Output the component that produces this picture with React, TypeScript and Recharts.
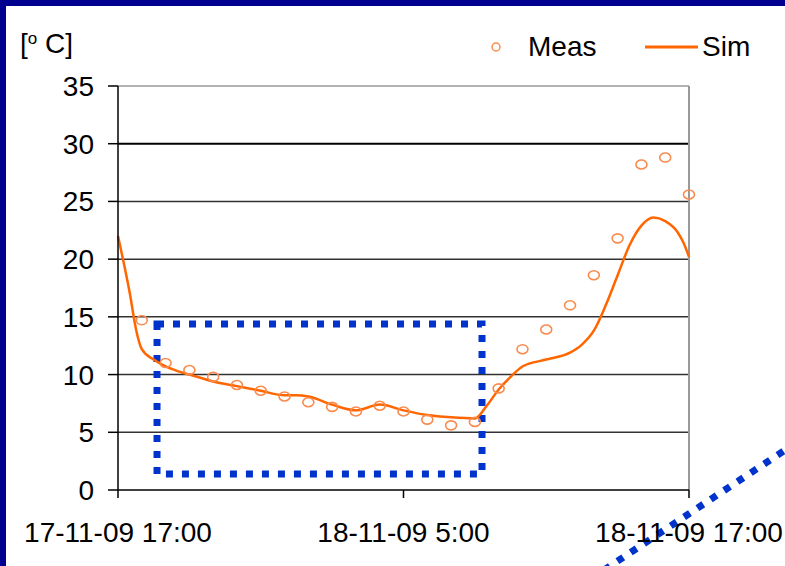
import React from "react";
import {
  CartesianGrid,
  ComposedChart,
  Line,
  ReferenceArea,
  ReferenceLine,
  XAxis,
  YAxis,
} from "recharts";

// Simulated temperature, hours since 17-11-09 17:00
const simHours = [
  0, 0.25, 0.5, 0.75, 1, 1.5, 2, 2.5, 3, 3.5, 4, 5, 6, 7, 7.5, 8, 9, 10, 11, 12, 13, 14, 15,
  15.5, 16, 16.5, 17, 18, 19, 19.5, 20, 20.5, 21, 21.5, 22, 22.5, 23, 23.5, 23.75, 24,
];
const simTemp = [
  22.0, 19.6, 17.0, 14.0, 12.2, 11.3, 10.7, 10.3, 10.0, 9.7, 9.4, 9.0, 8.6, 8.2, 8.2, 8.1, 7.4,
  6.9, 7.4, 6.9, 6.5, 6.3, 6.2, 7.3, 8.7, 9.8, 10.7, 11.3, 11.9, 12.6, 13.8, 16.0, 18.6, 21.2,
  22.9, 23.6, 23.3, 22.4, 21.5, 20.2,
];

// Measured temperature, hourly
const measHours = [
  1, 2, 3, 4, 5, 6, 7, 8, 9, 10, 11, 12, 13, 14, 15, 16, 17, 18, 19, 20, 21, 22, 23, 24,
];
const measTemp = [
  14.7, 11.0, 10.4, 9.8, 9.1, 8.6, 8.1, 7.6, 7.2, 6.8, 7.3, 6.8, 6.1, 5.6, 5.9, 8.8, 12.2, 13.9,
  16.0, 18.6, 21.8, 28.2, 28.8, 25.6,
];

const xTicks = [0, 12, 24];
const xTickLabels = ["17-11-09 17:00", "18-11-09 5:00", "18-11-09 17:00"];
const yTicks = [0, 5, 10, 15, 20, 25, 30, 35];

type Row = { hour: number; sim: number | null; meas: number | null };

function buildRows(): Row[] {
  const map = new Map<number, Row>();
  simHours.forEach((h, i) => {
    map.set(h, { hour: h, sim: simTemp[i], meas: null });
  });
  measHours.forEach((h, i) => {
    const r = map.get(h) ?? { hour: h, sim: null, meas: null };
    r.meas = measTemp[i];
    map.set(h, r);
  });
  return Array.from(map.values()).sort((a, b) => a.hour - b.hour);
}

const FONT = '"Liberation Sans", Arial, sans-serif';
const SIM = "#FF6600";
const MEAS = "#F98B4E";
const BLUE = "#0033CC";

function MeasDot(props: any) {
  const { cx, cy, index } = props;
  if (typeof cx !== "number" || typeof cy !== "number" || props.value == null) {
    return <g key={`m-${index}`} />;
  }
  return (
    <ellipse
      key={`m-${index}`}
      cx={cx}
      cy={cy}
      rx={5.5}
      ry={4.5}
      fill="none"
      stroke={MEAS}
      strokeWidth={1.6}
    />
  );
}

export default function App() {
  const rows = buildRows();
  return (
    <div
      style={{
        position: "absolute",
        left: 0,
        top: 0,
        width: 785,
        height: 566,
        background: "#000090",
        overflow: "hidden",
        fontFamily: FONT,
      }}
    >
      <div
        style={{ position: "absolute", left: 6, top: 6, width: 779, height: 560, background: "#fff" }}
      />
      <div style={{ position: "absolute", left: 20, top: 28, fontSize: 28, color: "#000" }}>
        [<sup style={{ fontSize: 17, verticalAlign: 9 }}>o</sup> C]
      </div>
      <svg style={{ position: "absolute", left: 0, top: 0 }} width={785} height={80}>
        <circle cx={496} cy={47} r={4} fill="none" stroke={MEAS} strokeWidth={1.5} />
        <line x1={645} y1={47} x2={698} y2={47} stroke={SIM} strokeWidth={3} />
      </svg>
      <div style={{ position: "absolute", left: 528, top: 31, fontSize: 28, color: "#000" }}>
        Meas
      </div>
      <div style={{ position: "absolute", left: 702, top: 31, fontSize: 28, color: "#000" }}>
        Sim
      </div>
      <div style={{ position: "absolute", left: 0, top: 0 }}>
        <ComposedChart
          width={785}
          height={566}
          data={rows}
          margin={{ top: 86, right: 96, bottom: 36, left: 18 }}
        >
          <CartesianGrid
            vertical={false}
            horizontalValues={[5, 10, 15, 20, 25]}
            stroke="#333"
            strokeWidth={1.5}
          />
          <ReferenceLine y={35} stroke="#999" strokeWidth={1.5} />
          <ReferenceLine y={30} stroke="#000" strokeWidth={2} />
          <ReferenceLine x={24} stroke="#999" strokeWidth={2} />
          <XAxis
            dataKey="hour"
            type="number"
            domain={[0, 24]}
            ticks={xTicks}
            interval={0}
            tickFormatter={(v: number) => xTickLabels[xTicks.indexOf(v)] ?? ""}
            tick={{ fontSize: 28, fill: "#000", fontFamily: FONT }}
            tickSize={8}
            tickMargin={24}
            height={40}
            axisLine={{ stroke: "#000", strokeWidth: 1.5 }}
            tickLine={{ stroke: "#000", strokeWidth: 1.5 }}
          />
          <YAxis
            domain={[0, 35]}
            ticks={yTicks}
            interval={0}
            width={100}
            tick={{ fontSize: 28, fill: "#000", fontFamily: FONT }}
            tickSize={10}
            tickMargin={14}
            axisLine={{ stroke: "#000", strokeWidth: 1.5 }}
            tickLine={{ stroke: "#000", strokeWidth: 1.5 }}
          />
          <Line
            type="monotone"
            dataKey="sim"
            stroke={SIM}
            strokeWidth={2.5}
            dot={false}
            activeDot={false}
            connectNulls
            isAnimationActive={false}
          />
          <Line
            dataKey="meas"
            stroke="none"
            dot={MeasDot}
            activeDot={false}
            isAnimationActive={false}
          />
          <ReferenceArea
            x1={1.64}
            x2={15.3}
            y1={1.39}
            y2={14.38}
            fill="none"
            stroke={BLUE}
            strokeWidth={7}
            strokeDasharray="7 9"
            ifOverflow="visible"
          />
          <ReferenceLine
            segment={[
              { x: 20.43, y: -6.93 },
              { x: 28.24, y: 3.73 },
            ]}
            stroke={BLUE}
            strokeWidth={7}
            strokeDasharray="7 9"
            ifOverflow="visible"
          />
        </ComposedChart>
      </div>
    </div>
  );
}
